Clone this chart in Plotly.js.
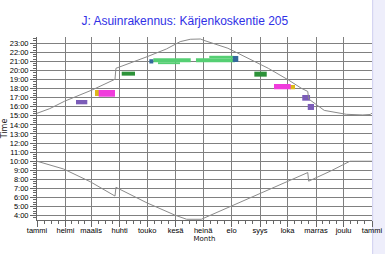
<!DOCTYPE html>
<html><head><meta charset="utf-8">
<script src="https://cdn.plot.ly/plotly-3.0.1.min.js"></script>
<style>html,body{margin:0;padding:0;background:#fff}#chart{width:385px;height:254px}</style>
</head><body><div id="chart"></div>
<script>
// ---- data ----
const monthLabels = ["tammi","helmi","maalis","huhti","touko","kesä","heinä","elo","syys","loka","marras","joulu","tammi"];
const monthStartDays = [0,31,59,90,120,151,181,212,243,273,304,334,365];
const hourValues = [4,5,6,7,8,9,10,11,12,13,14,15,16,17,18,19,20,21,22,23];
const hourLabels = ["4:00","5:00","6:00","7:00","8:00","9:00","10:00","11:00","12:00","13:00","14:00","15:00","16:00","17:00","18:00","19:00","20:00","21:00","22:00","23:00"];

// sunset (upper curve), hours
const sunsetDays  = [0, 14, 30, 60, 85, 86, 120, 141, 156, 167, 178, 183, 208, 234, 252, 274, 288, 295, 296, 313, 337, 355, 363, 365];
const sunsetTimes = [15.28, 15.8, 16.61, 17.85, 19.03, 20.24, 21.52, 22.37, 23.18, 23.44, 23.47, 23.28, 22.45, 21.16, 20.24, 18.95, 18.04, 17.69, 16.86, 15.6, 15.17, 15.1, 15.15, 15.3];
// sunrise (lower curve), hours
const sunriseDays  = [0, 29, 58, 85, 86, 120, 150, 163, 179, 210, 243, 272, 295, 296, 320, 341, 365];
const sunriseTimes = [10.0, 9.14, 7.74, 6.16, 7.12, 5.4, 4.07, 3.6, 3.6, 4.98, 6.46, 7.74, 8.75, 7.8, 8.92, 10.0, 10.0];

// shadow periods per source
const periodSource   = ["E","E","E","E","F","F","A","A","A","B","B","C","C","D","D"];
const periodStartDay = [126.7, 131.8, 173.2, 187.7, 122.4, 213.3, 42.5, 289.0, 295.0, 63.2, 275.7, 67.2, 258.2, 92.3, 236.8];
const periodEndDay   = [167.5, 155.8, 215.7, 213.9, 126.7, 219.3, 54.8, 297.5, 301.8, 68.6, 281.1, 85.0, 276.4, 106.8, 250.3];
const periodFromTime = [20.91, 20.70, 20.91, 21.35, 20.77, 20.94, 16.27, 16.67, 15.65, 17.19, 17.93, 17.11, 17.93, 19.43, 19.32];
const periodToTime   = [21.35, 20.91, 21.35, 21.62, 21.24, 21.60, 16.75, 17.30, 16.31, 17.85, 18.40, 17.85, 18.51, 19.87, 19.87];

// ---- styles ----
const sourceColors = {A:"#7b5cb8", B:"#dcb81c", C:"#f03cdc", D:"#2c9238", E:"#55cf73", F:"#33699b"};

const traces = [];
periodSource.forEach((s, i) => {
  const x0 = periodStartDay[i], x1 = periodEndDay[i], y0 = periodFromTime[i], y1 = periodToTime[i];
  traces.push({type:"scatter", mode:"lines", x:[x0,x1,x1,x0,x0], y:[y0,y0,y1,y1,y0],
    fill:"toself", fillcolor:sourceColors[s], line:{width:0, color:sourceColors[s]},
    hoverinfo:"skip", showlegend:false});
});
traces.push({type:"scatter", mode:"lines", x:sunsetDays, y:sunsetTimes, line:{color:"#8a8a8a", width:1}, showlegend:false});
traces.push({type:"scatter", mode:"lines", x:sunriseDays, y:sunriseTimes, line:{color:"#8a8a8a", width:1}, showlegend:false});

// minor ticks: quarter months and quarter hours
const xMinor = [];
for (let i = 0; i < monthStartDays.length - 1; i++) {
  const a = monthStartDays[i], b = monthStartDays[i+1];
  for (let k = 1; k < 4; k++) xMinor.push(a + (b - a) * k / 4);
}
const yMinor = [];
for (let h = 3.5; h <= 23.75; h += 0.25) if (h % 1 !== 0) yMinor.push(h);

const tickFont = {family:"Liberation Sans Narrow, Arial Narrow, Liberation Sans, Arial, sans-serif", size:7.5, color:"#000"};

const layout = {
  width:385, height:254,
  margin:{l:37, r:13, t:37, b:34},
  paper_bgcolor:"#ffffff", plot_bgcolor:"#ffffff",
  showlegend:false,
  title:{text:"J: Asuinrakennus: Kärjenkoskentie 205", xref:"container", yref:"container",
    x:0.48, xanchor:"center", y:0.917, yanchor:"middle",
    font:{family:"Liberation Sans, Arial, sans-serif", size:12, color:"#3030e6"}},
  xaxis:{range:[0,365], tickmode:"array", tickvals:monthStartDays, ticktext:monthLabels,
    showgrid:true, gridcolor:"#808080", gridwidth:1, zeroline:false,
    showline:true, linecolor:"#666", linewidth:1,
    ticks:"outside", ticklen:6, tickcolor:"#666", tickwidth:1, ticklabelstandoff:-3,
    minor:{tickvals:xMinor, ticks:"outside", ticklen:3, tickcolor:"#666", showgrid:false},
    tickfont:tickFont, fixedrange:true, automargin:false,
    title:{text:"Month", standoff:0, font:{family:"DejaVu Sans, sans-serif", size:7, color:"#111"}}},
  yaxis:{range:[3.52, 23.69], tickmode:"array", tickvals:hourValues, ticktext:hourLabels,
    showgrid:true, gridcolor:"#808080", gridwidth:1, zeroline:false,
    showline:true, linecolor:"#666", linewidth:1,
    ticks:"outside", ticklen:6, tickcolor:"#666", tickwidth:1,
    minor:{tickvals:yMinor, ticks:"outside", ticklen:3, tickcolor:"#666", showgrid:false},
    tickfont:tickFont, fixedrange:true, automargin:false,
    title:{text:"Time", standoff:2, font:{family:"DejaVu Sans, sans-serif", size:8, color:"#222"}}},
  shapes:[{type:"rect", xref:"paper", yref:"paper", x0:1.002, x1:1.05, y0:-0.3, y1:1.3,
    fillcolor:"#eeeefb", line:{color:"#cfcff0", width:1}, layer:"below"}]
};

Plotly.newPlot("chart", traces, layout, {staticPlot:true, displayModeBar:false});
</script>
</body></html>
